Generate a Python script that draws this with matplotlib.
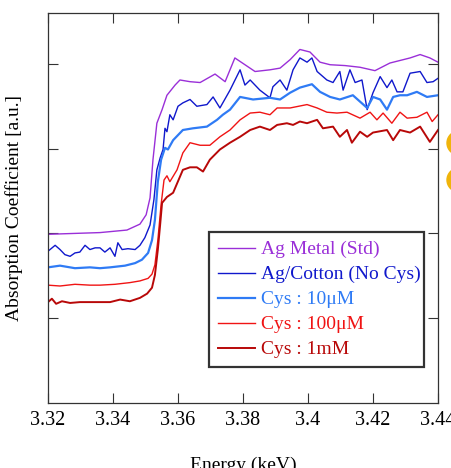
import matplotlib
matplotlib.use("Agg")
import matplotlib.pyplot as plt
from matplotlib.patches import Ellipse

plt.rcParams['font.family'] = ['Liberation Serif', 'DejaVu Serif']

# energy (keV) / absorption (a.u.)
e_std = [3.3200, 3.3360, 3.3443, 3.3483, 3.3502, 3.3514, 3.3523, 3.3535, 3.3551, 3.3566,
         3.3591, 3.3606, 3.3637, 3.3668, 3.3714, 3.3745, 3.3775, 3.3806, 3.3837, 3.3883,
         3.3914, 3.3945, 3.3975, 3.4006, 3.4037, 3.4068, 3.4114, 3.4160, 3.4206, 3.4252,
         3.4314, 3.4345, 3.4375, 3.4400]
a_std = [1.99, 2.01, 2.04, 2.11, 2.22, 2.42, 2.87, 3.30, 3.46, 3.63,
         3.75, 3.81, 3.79, 3.78, 3.88, 3.79, 4.07, 3.99, 3.91, 3.93,
         3.95, 4.05, 4.17, 4.14, 4.02, 3.99, 3.98, 3.96, 3.92, 4.01,
         4.07, 4.11, 4.07, 4.02]

e_cot = [3.3200, 3.3222, 3.3237, 3.3252, 3.3268, 3.3283, 3.3298, 3.3314, 3.3329, 3.3345,
         3.3360, 3.3375, 3.3391, 3.3406, 3.3415, 3.3428, 3.3446, 3.3468, 3.3483, 3.3498,
         3.3514, 3.3526, 3.3535, 3.3545, 3.3554, 3.3560, 3.3566, 3.3575, 3.3585, 3.3600,
         3.3615, 3.3637, 3.3658, 3.3689, 3.3708, 3.3729, 3.3760, 3.3791, 3.3806, 3.3822,
         3.3852, 3.3883, 3.3892, 3.3914, 3.3935, 3.3954, 3.3975, 3.3997, 3.4012, 3.4028,
         3.4058, 3.4077, 3.4098, 3.4108, 3.4129, 3.4145, 3.4166, 3.4182, 3.4200, 3.4222,
         3.4243, 3.4258, 3.4274, 3.4292, 3.4314, 3.4345, 3.4366, 3.4385, 3.4400]
a_cot = [1.79, 1.86, 1.81, 1.75, 1.73, 1.77, 1.78, 1.86, 1.81, 1.83,
         1.83, 1.78, 1.83, 1.73, 1.89, 1.81, 1.82, 1.81, 1.86, 1.95,
         2.10, 2.40, 2.75, 2.89, 2.99, 3.24, 3.20, 3.40, 3.34, 3.50,
         3.54, 3.58, 3.50, 3.52, 3.61, 3.48, 3.69, 3.93, 3.75, 3.81,
         3.69, 3.60, 3.73, 3.81, 3.69, 3.93, 4.07, 4.02, 4.07, 3.91,
         3.81, 3.78, 3.91, 3.69, 3.93, 3.78, 3.81, 3.46, 3.66, 3.85,
         3.72, 3.81, 3.67, 3.67, 3.89, 3.91, 3.78, 3.79, 3.83]

e_10u = [3.3200, 3.3237, 3.3283, 3.3329, 3.3360, 3.3391, 3.3437, 3.3468, 3.3489, 3.3508,
         3.3520, 3.3529, 3.3538, 3.3548, 3.3560, 3.3569, 3.3585, 3.3615, 3.3646, 3.3689,
         3.3720, 3.3738, 3.3760, 3.3791, 3.3831, 3.3883, 3.3914, 3.3945, 3.3975, 3.4012,
         3.4037, 3.4068, 3.4098, 3.4138, 3.4182, 3.4200, 3.4222, 3.4243, 3.4262, 3.4283,
         3.4305, 3.4335, 3.4366, 3.4400]
a_10u = [1.60, 1.62, 1.59, 1.60, 1.59, 1.60, 1.62, 1.65, 1.69, 1.77,
         1.92, 2.16, 2.61, 2.87, 3.01, 2.99, 3.10, 3.22, 3.24, 3.26,
         3.34, 3.40, 3.46, 3.61, 3.58, 3.60, 3.58, 3.66, 3.72, 3.76,
         3.67, 3.61, 3.58, 3.63, 3.48, 3.61, 3.58, 3.46, 3.61, 3.63,
         3.63, 3.67, 3.61, 3.63]

e_100u = [3.3200, 3.3237, 3.3283, 3.3329, 3.3360, 3.3406, 3.3452, 3.3483, 3.3508, 3.3520,
          3.3529, 3.3538, 3.3548, 3.3557, 3.3566, 3.3575, 3.3597, 3.3615, 3.3637, 3.3668,
          3.3698, 3.3729, 3.3760, 3.3791, 3.3822, 3.3852, 3.3883, 3.3905, 3.3945, 3.3997,
          3.4028, 3.4058, 3.4089, 3.4120, 3.4160, 3.4191, 3.4212, 3.4231, 3.4258, 3.4283,
          3.4305, 3.4335, 3.4366, 3.4382, 3.4400]
a_100u = [1.39, 1.38, 1.40, 1.39, 1.39, 1.40, 1.42, 1.44, 1.47, 1.52,
          1.63, 1.92, 2.34, 2.63, 2.68, 2.61, 2.75, 2.95, 3.07, 3.04,
          3.04, 3.14, 3.22, 3.34, 3.42, 3.43, 3.40, 3.48, 3.48, 3.52,
          3.48, 3.43, 3.42, 3.43, 3.36, 3.43, 3.34, 3.42, 3.30, 3.43,
          3.36, 3.37, 3.43, 3.32, 3.40]

e_1m = [3.3200, 3.3212, 3.3225, 3.3243, 3.3268, 3.3298, 3.3329, 3.3360, 3.3391, 3.3422,
        3.3452, 3.3483, 3.3505, 3.3520, 3.3529, 3.3538, 3.3545, 3.3551, 3.3566, 3.3585,
        3.3615, 3.3637, 3.3658, 3.3677, 3.3698, 3.3729, 3.3760, 3.3791, 3.3822, 3.3852,
        3.3883, 3.3905, 3.3935, 3.3954, 3.3975, 3.3997, 3.4028, 3.4046, 3.4077, 3.4098,
        3.4120, 3.4135, 3.4160, 3.4182, 3.4200, 3.4243, 3.4262, 3.4283, 3.4314, 3.4345,
        3.4375, 3.4400]
a_1m = [1.19, 1.23, 1.17, 1.20, 1.18, 1.19, 1.19, 1.19, 1.19, 1.22,
        1.20, 1.24, 1.29, 1.36, 1.51, 1.81, 2.10, 2.36, 2.43, 2.48,
        2.75, 2.78, 2.78, 2.73, 2.87, 2.99, 3.07, 3.14, 3.22, 3.26,
        3.22, 3.28, 3.30, 3.28, 3.32, 3.30, 3.34, 3.24, 3.26, 3.14,
        3.22, 3.07, 3.20, 3.14, 3.19, 3.22, 3.10, 3.22, 3.19, 3.26,
        3.08, 3.22]

labels = ['Ag Metal (Std)', 'Ag/Cotton (No Cys)', 'Cys : 10\u03bcM', 'Cys : 100\u03bcM', 'Cys : 1mM']
colors = ['#9a2fd8', '#1018cc', '#2f7bf5', '#f01414', '#b80808']
widths = [1.0, 1.0, 1.6, 1.0, 1.4]

fig = plt.figure(figsize=(4.51, 4.68), dpi=100)
ax = fig.add_axes([0.1064, 0.1389, 0.8648, 0.8333])

series = [(e_std, a_std), (e_cot, a_cot), (e_10u, a_10u), (e_100u, a_100u), (e_1m, a_1m)]
for (e, a), lab, c, w in zip(series, labels, colors, widths):
    ax.plot(e, a, color=c, lw=w, label=lab)

ax.set_xlim(3.32, 3.44)
ax.set_ylim(0, 4.6)
ax.set_xticks([3.32, 3.34, 3.36, 3.38, 3.40, 3.42, 3.44])
ax.set_xticklabels(['3.32', '3.34', '3.36', '3.38', '3.4', '3.42', '3.44'])
ax.set_yticks([1, 2, 3, 4])
ax.set_yticklabels([])
ax.tick_params(direction='in', length=7, width=0.8, top=True, right=True,
               labelsize=14.5, colors='#333333', labelcolor='black', pad=6)
for s in ax.spines.values():
    s.set_color('#333333')
    s.set_linewidth(0.9)

ax.set_xlabel('Energy (keV)', fontsize=14, labelpad=19)
ax.set_ylabel('Absorption Coefficient [a.u.]', fontsize=14, labelpad=12)

leg = ax.legend(loc='upper left', bbox_to_anchor=(0.413, 0.4385, 0.551, 0), mode='expand',
                fontsize=14, frameon=True, fancybox=False, handlelength=1.9,
                handletextpad=0.3, labelspacing=0.38, borderpad=0.45, borderaxespad=0)
leg.get_frame().set_edgecolor('black')
leg.get_frame().set_linewidth(1.6)
for t, c in zip(leg.get_texts(), colors):
    t.set_color(c)

# bits of another graphic cut off at the right edge
for yc in [143, 180]:
    fig.patches.append(Ellipse((459 / 451, 1 - yc / 468), 24 / 451, 24 / 468,
                               transform=fig.transFigure, color='#f0b40a'))

fig.savefig('out.png', dpi=100)
